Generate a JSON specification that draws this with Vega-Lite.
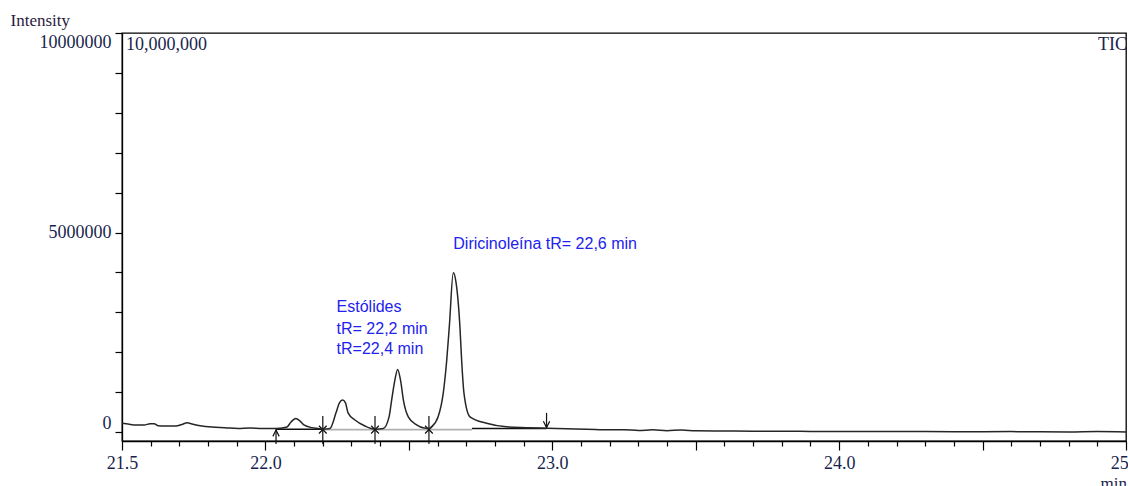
{
  "$schema": "https://vega.github.io/schema/vega-lite/v6.json",
  "width": 1004,
  "height": 408,
  "autosize": {"type": "none"},
  "padding": {"left": 122, "top": 33, "right": 2, "bottom": 45},
  "background": "white",
  "config": {
    "view": {"stroke": "#000", "strokeWidth": 1.3},
    "font": "Liberation Serif"
  },
  "datasets": {
    "trace": [
      {"t": 21.500, "I": 220000}, {"t": 21.521, "I": 200000}, {"t": 21.549, "I": 175000},
      {"t": 21.577, "I": 175000}, {"t": 21.598, "I": 210000}, {"t": 21.612, "I": 210000},
      {"t": 21.625, "I": 160000}, {"t": 21.653, "I": 150000}, {"t": 21.688, "I": 150000},
      {"t": 21.709, "I": 190000}, {"t": 21.727, "I": 230000}, {"t": 21.744, "I": 200000},
      {"t": 21.772, "I": 160000}, {"t": 21.814, "I": 125000}, {"t": 21.859, "I": 110000},
      {"t": 21.904, "I": 90000}, {"t": 21.946, "I": 100000}, {"t": 21.988, "I": 90000},
      {"t": 22.023, "I": 90000}, {"t": 22.051, "I": 95000}, {"t": 22.075, "I": 125000},
      {"t": 22.089, "I": 250000}, {"t": 22.106, "I": 340000}, {"t": 22.120, "I": 280000},
      {"t": 22.134, "I": 180000}, {"t": 22.162, "I": 110000}, {"t": 22.183, "I": 90000},
      {"t": 22.201, "I": 75000}, {"t": 22.225, "I": 90000}, {"t": 22.246, "I": 480000},
      {"t": 22.258, "I": 730000}, {"t": 22.269, "I": 800000}, {"t": 22.279, "I": 730000},
      {"t": 22.288, "I": 480000}, {"t": 22.312, "I": 300000}, {"t": 22.347, "I": 150000},
      {"t": 22.382, "I": 70000}, {"t": 22.411, "I": 90000}, {"t": 22.431, "I": 380000},
      {"t": 22.440, "I": 800000}, {"t": 22.450, "I": 1250000}, {"t": 22.461, "I": 1570000},
      {"t": 22.471, "I": 1300000}, {"t": 22.481, "I": 800000}, {"t": 22.498, "I": 380000},
      {"t": 22.527, "I": 180000}, {"t": 22.553, "I": 100000}, {"t": 22.570, "I": 90000},
      {"t": 22.579, "I": 130000}, {"t": 22.602, "I": 380000}, {"t": 22.620, "I": 980000},
      {"t": 22.632, "I": 1800000}, {"t": 22.641, "I": 2640000}, {"t": 22.655, "I": 3990000},
      {"t": 22.664, "I": 3770000}, {"t": 22.678, "I": 2640000}, {"t": 22.684, "I": 1800000},
      {"t": 22.692, "I": 980000}, {"t": 22.713, "I": 380000}, {"t": 22.771, "I": 220000},
      {"t": 22.841, "I": 130000}, {"t": 22.911, "I": 110000}, {"t": 22.980, "I": 95000},
      {"t": 23.050, "I": 80000}, {"t": 23.120, "I": 70000}, {"t": 23.200, "I": 55000},
      {"t": 23.250, "I": 60000}, {"t": 23.300, "I": 40000}, {"t": 23.350, "I": 55000},
      {"t": 23.400, "I": 35000}, {"t": 23.450, "I": 50000}, {"t": 23.500, "I": 30000},
      {"t": 23.600, "I": 25000}, {"t": 23.700, "I": 20000}, {"t": 23.800, "I": 20000},
      {"t": 23.900, "I": 15000}, {"t": 24.000, "I": 10000}, {"t": 24.200, "I": 15000},
      {"t": 24.400, "I": 5000}, {"t": 24.600, "I": 10000}, {"t": 24.800, "I": 0},
      {"t": 24.900, "I": 10000}, {"t": 25.000, "I": 0}
    ],
    "baselines": [
      {"t": 22.037, "t2": 22.2, "I": 70000, "kind": "flat"},
      {"t": 22.2, "t2": 22.72, "I": 60000, "kind": "peak"},
      {"t": 22.72, "t2": 22.98, "I": 90000, "kind": "flat"}
    ],
    "cuts": [
      {"t": 22.2, "I": 400000, "I2": -300000},
      {"t": 22.382, "I": 400000, "I2": -300000},
      {"t": 22.57, "I": 400000, "I2": -300000},
      {"t": 22.037, "I": 70000, "I2": -300000},
      {"t": 22.98, "I": 480000, "I2": 90000}
    ],
    "stars": [
      {"t": 22.2, "I": 60000},
      {"t": 22.382, "I": 60000},
      {"t": 22.57, "I": 60000}
    ],
    "uparrow": [{"t": 22.037, "I": -30000}],
    "downarrow": [{"t": 22.98, "I": 190000}],
    "notes": [
      {"t": 22.248, "I": 3140000, "label": "Estólides"},
      {"t": 22.248, "I": 2580000, "label": "tR= 22,2 min"},
      {"t": 22.248, "I": 2070000, "label": "tR=22,4 min"},
      {"t": 22.655, "I": 4710000, "label": "Diricinoleína tR= 22,6 min"}
    ],
    "corner": [
      {"t": 21.5, "I": 10000000, "label": "10,000,000", "side": "left"},
      {"t": 25.0, "I": 10000000, "label": "TIC", "side": "right"}
    ]
  },
  "encoding": {
    "x": {
      "field": "t",
      "type": "quantitative",
      "scale": {"domain": [21.5, 25.0], "nice": false, "zero": false},
      "axis": {
        "values": [21.5, 21.6, 21.7, 21.8, 21.9, 22.0, 22.1, 22.2, 22.3, 22.4, 22.5, 22.6, 22.7, 22.8, 22.9, 23.0, 23.1, 23.2, 23.3, 23.4, 23.5, 23.6, 23.7, 23.8, 23.9, 24.0, 24.1, 24.2, 24.3, 24.4, 24.5, 24.6, 24.7, 24.8, 24.9, 25.0],
        "labelExpr": "(abs(datum.value - 21.5) < 0.001 || abs(datum.value - round(datum.value)) < 0.001) ? format(datum.value, '.1f') : ''",
        "grid": false,
        "domainColor": "#000",
        "domainWidth": 1.3,
        "tickColor": "#000",
        "tickWidth": 1.2,
        "tickSize": {"condition": {"test": "abs(datum.value * 2 - round(datum.value * 2)) < 0.001", "value": 9}, "value": 5},
        "labelPadding": 4,
        "labelFont": "Liberation Serif",
        "labelFontSize": 18,
        "labelColor": "#1a1f4d",
        "labelOverlap": false,
        "labelFlush": false,
        "title": "min",
        "titleFont": "Liberation Serif",
        "titleFontSize": 17,
        "titleFontWeight": "normal",
        "titleColor": "#1a1f4d",
        "titleX": 978,
        "titleY": 47,
        "titleAlign": "left",
        "titleBaseline": "alphabetic"
      }
    },
    "y": {
      "field": "I",
      "type": "quantitative",
      "scale": {"domain": [-225000, 10000000], "nice": false, "zero": false},
      "axis": {
        "values": [0, 1000000, 2000000, 3000000, 4000000, 5000000, 6000000, 7000000, 8000000, 9000000, 10000000],
        "labelExpr": "datum.value % 5000000 == 0 ? '' + datum.value : ''",
        "grid": false,
        "domainColor": "#000",
        "domainWidth": 1.3,
        "tickColor": "#000",
        "tickWidth": 1.2,
        "tickSize": 7,
        "labelPadding": 4,
        "labelFont": "Liberation Serif",
        "labelFontSize": 18,
        "labelColor": "#1a1f4d",
        "labelOverlap": false,
        "labelFlush": 12,
        "labelFlushOffset": 0,
        "title": "Intensity",
        "titleFont": "Liberation Serif",
        "titleFontSize": 17,
        "titleFontWeight": "normal",
        "titleColor": "#2a1a40",
        "titleAngle": 0,
        "titleX": -112,
        "titleY": -13,
        "titleAlign": "left",
        "titleBaseline": "middle"
      }
    }
  },
  "layer": [
    {
      "data": {"name": "baselines"},
      "mark": {"type": "rule", "strokeWidth": 1.6},
      "encoding": {
        "x2": {"field": "t2"},
        "color": {"field": "kind", "type": "nominal", "scale": {"domain": ["flat", "peak"], "range": ["#111111", "#b0b0b0"]}, "legend": null}
      }
    },
    {
      "data": {"name": "cuts"},
      "mark": {"type": "rule", "color": "#111", "strokeWidth": 1.2},
      "encoding": {"y2": {"field": "I2"}}
    },
    {
      "data": {"name": "stars"},
      "mark": {"type": "point", "shape": "M-1,-1L1,1M-1,1L1,-1", "size": 60, "filled": false, "color": "#111", "strokeWidth": 1.2, "opacity": 1}
    },
    {
      "data": {"name": "uparrow"},
      "mark": {"type": "point", "shape": "M-1,1L0,-1L1,1", "size": 40, "filled": false, "color": "#111", "strokeWidth": 1.2, "opacity": 1}
    },
    {
      "data": {"name": "downarrow"},
      "mark": {"type": "point", "shape": "M-1,-1L0,1L1,-1", "size": 40, "filled": false, "color": "#111", "strokeWidth": 1.2, "opacity": 1}
    },
    {
      "data": {"name": "trace"},
      "mark": {"type": "line", "color": "#262626", "strokeWidth": 1.5, "interpolate": "monotone"}
    },
    {
      "data": {"name": "notes"},
      "mark": {"type": "text", "align": "left", "baseline": "middle", "font": "Liberation Sans", "fontSize": 16, "color": "#2222ee"},
      "encoding": {"text": {"field": "label"}}
    },
    {
      "data": {"name": "corner"},
      "transform": [{"filter": "datum.side == 'left'"}],
      "mark": {"type": "text", "align": "left", "baseline": "top", "dx": 4, "dy": 3, "font": "Liberation Serif", "fontSize": 18, "color": "#1a1f4d"},
      "encoding": {"text": {"field": "label"}}
    },
    {
      "data": {"name": "corner"},
      "transform": [{"filter": "datum.side == 'right'"}],
      "mark": {"type": "text", "align": "right", "baseline": "top", "dx": 1, "dy": 3, "font": "Liberation Serif", "fontSize": 18, "color": "#1a1f4d"},
      "encoding": {"text": {"field": "label"}}
    }
  ]
}
